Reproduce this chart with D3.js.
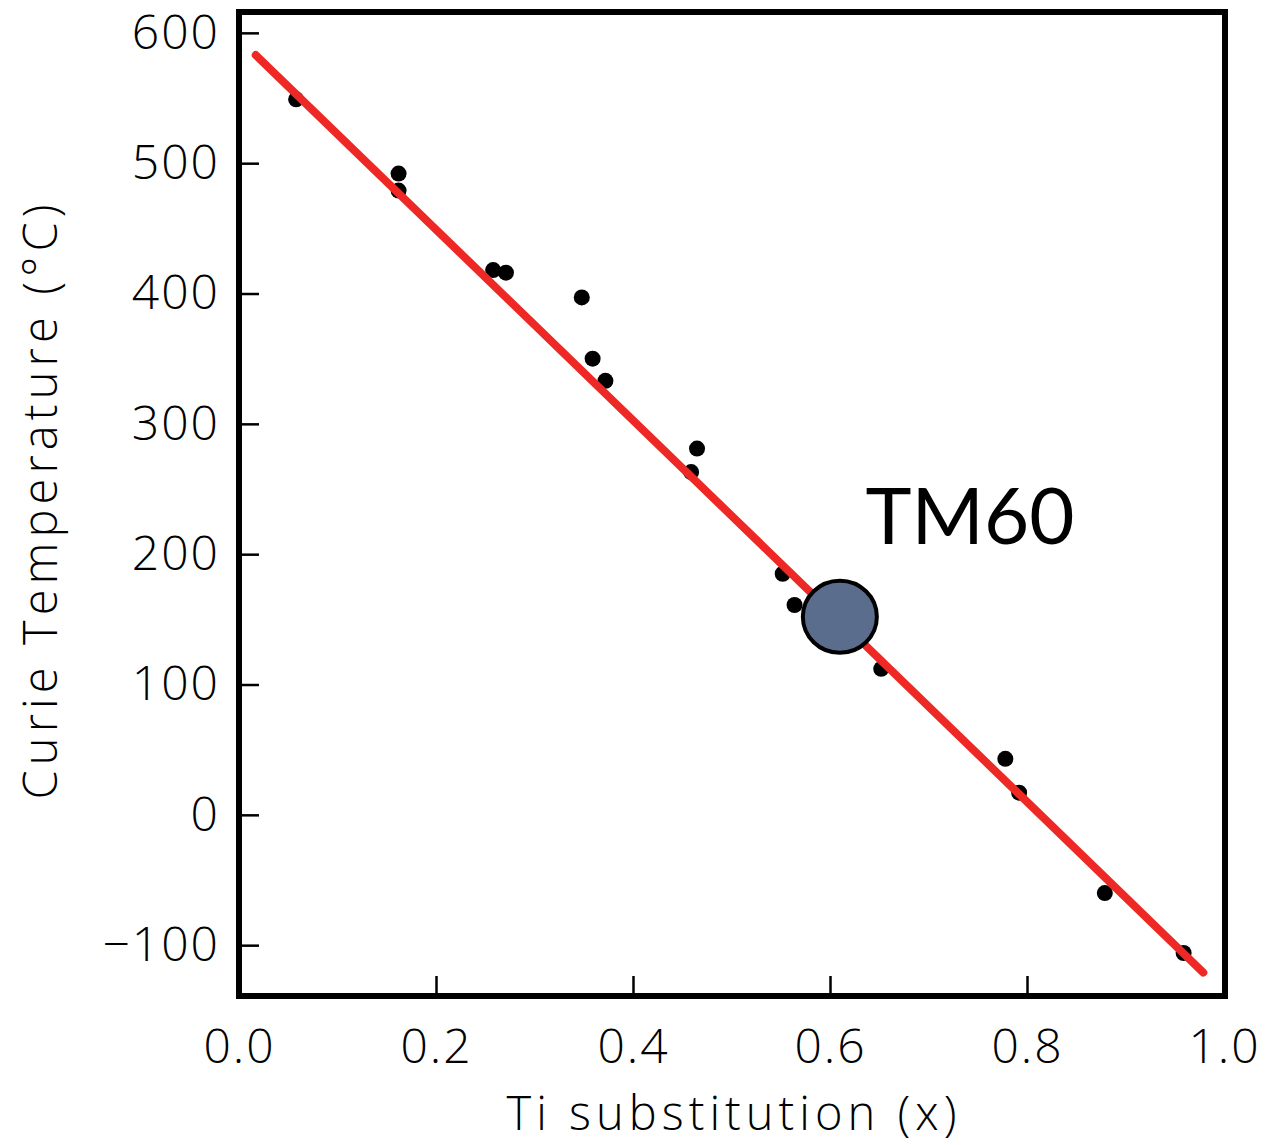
<!DOCTYPE html>
<html>
<head>
<meta charset="utf-8">
<script src="https://cdn.jsdelivr.net/npm/d3@7"></script>
<style>
  body { margin: 0; background: #fff; }
  text { font-family: "Open Sans", "DejaVu Sans", sans-serif; }
</style>
</head>
<body>
<div id="chart"></div>
<script>
// Data
const tiX = [0.058, 0.162, 0.162, 0.258, 0.271, 0.348, 0.359, 0.372, 0.459, 0.465,
             0.552, 0.564, 0.652, 0.778, 0.792, 0.879, 0.959];
const curieT = [549, 492, 479, 418, 416, 397, 350, 333, 263, 281,
                185, 161, 112, 43, 17, -60, -106];
const fitX = [0.017, 0.979];
const fitY = [583, -121];
const tm60 = { x: 0.610, y: 152, label: "TM60" };
const xTicks = [0, 0.2, 0.4, 0.6, 0.8, 1.0];
const yTicks = [-100, 0, 100, 200, 300, 400, 500, 600];

const W = 1268, H = 1145;
const margin = { top: 12, right: 43, bottom: 149, left: 239 };
const width = W - margin.left - margin.right;
const height = H - margin.top - margin.bottom;

const svg = d3.select('#chart')
    .append('svg')
    .attr('width', W)
    .attr('height', H);

const g = svg.append('g')
    .attr('transform', `translate(${margin.left},${margin.top})`);

const x = d3.scaleLinear().domain([0, 1.0]).range([0, width - 1]);
const y = d3.scaleLinear().domain([-139, 616]).range([height, 0]);

// axes with inward ticks
const yAxis = g.append('g')
    .call(d3.axisLeft(y).tickValues(yTicks).tickFormat(d3.format('d'))
        .tickSizeInner(-20).tickSizeOuter(0).tickPadding(19));
const xAxis = g.append('g')
    .attr('transform', `translate(0,${height})`)
    .call(d3.axisBottom(x).tickValues(xTicks).tickFormat(d3.format('.1f'))
        .tickSizeInner(-20).tickSizeOuter(0).tickPadding(33));

[yAxis, xAxis].forEach(a => {
    a.select('.domain').remove();
    a.selectAll('line').attr('stroke', '#000').attr('stroke-width', 2.5);
    a.selectAll('text')
        .attr('fill', '#000')
        .style('font-size', '48px')
        .style('font-weight', 300)
        .style('letter-spacing', '2px');
});

// frame
g.append('rect')
    .attr('x', 0).attr('y', 0)
    .attr('width', width).attr('height', height)
    .attr('fill', 'none')
    .attr('stroke', '#000')
    .attr('stroke-width', 6);

// data points
g.selectAll('.pt')
    .data(tiX)
    .enter()
    .append('circle')
    .attr('class', 'pt')
    .attr('cx', d => x(d))
    .attr('cy', (d, i) => y(curieT[i]))
    .attr('r', 8)
    .attr('fill', '#000');

// fit line
g.append('path')
    .datum(fitX.map((d, i) => [d, fitY[i]]))
    .attr('d', d3.line().x(d => x(d[0])).y(d => y(d[1])))
    .attr('fill', 'none')
    .attr('stroke', '#ee2925')
    .attr('stroke-width', 8)
    .attr('stroke-linecap', 'round');

// TM60 marker
g.append('ellipse')
    .attr('cx', x(tm60.x))
    .attr('cy', y(tm60.y))
    .attr('rx', 37)
    .attr('ry', 36)
    .attr('fill', '#5a6d8d')
    .attr('stroke', '#000')
    .attr('stroke-width', 4);

g.append('text')
    .attr('x', x(0.636))
    .attr('y', y(208))
    .text(tm60.label)
    .style('font-family', 'Lato, "Open Sans", sans-serif')
    .style('font-size', '78px')
    .attr('fill', '#000');

// axis labels
g.append('text')
    .attr('x', x(0.5))
    .attr('y', height + 134)
    .attr('text-anchor', 'middle')
    .attr('textLength', 450)
    .attr('lengthAdjust', 'spacing')
    .style('font-size', '47px')
    .style('font-weight', 300)
    .attr('fill', '#000')
    .text('Ti  substitution  (x)');

g.append('text')
    .attr('transform', 'rotate(-90)')
    .attr('x', -(502 - margin.top))
    .attr('y', 57 - margin.left)
    .attr('text-anchor', 'middle')
    .attr('textLength', 595)
    .attr('lengthAdjust', 'spacing')
    .style('font-size', '47px')
    .style('font-weight', 300)
    .attr('fill', '#000')
    .text('Curie  Temperature  (°C)');
</script>
</body>
</html>
